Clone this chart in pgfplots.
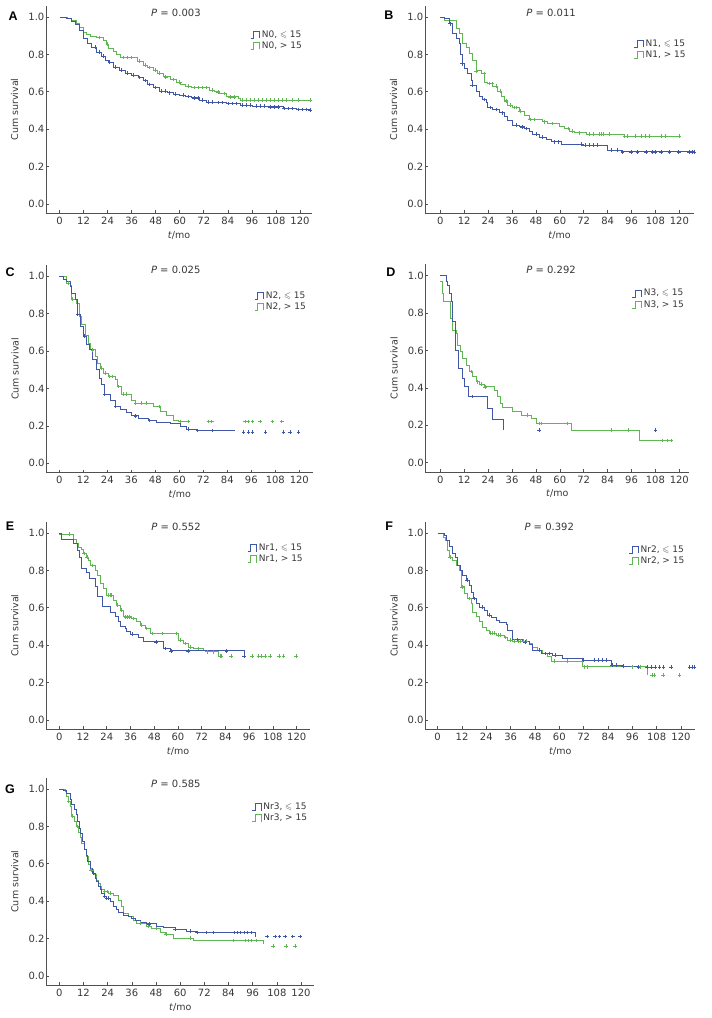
\documentclass[border=0pt]{standalone}
\usepackage{amssymb}
\usepackage{fontspec}
\setmainfont{DejaVu Sans}
\newfontfamily\lettfont{Liberation Sans}
\usepackage{pgfplots}
\pgfplotsset{compat=1.18}
\definecolor{kmblue}{RGB}{64,86,166}
\definecolor{kmgreen}{RGB}{96,182,84}
\definecolor{axgray}{RGB}{80,80,80}
\definecolor{txtgray}{RGB}{55,55,55}
\tikzset{
 ptext/.style={font=\fontsize{10}{12}\selectfont, text=txtgray},
 letter/.style={font=\fontsize{12.5}{15}\lettfont\bfseries\selectfont, text=black},
}
\pgfplotsset{
 kmaxis/.style={
   scale only axis, height=207.6pt, ymin=-0.05, ymax=1.06,
   axis x line=bottom, axis y line=left,
   axis line style={-,draw=axgray,line width=0.6pt},
   tick align=inside, major tick length=3pt,
   tick style={draw=axgray,line width=0.6pt},
   xtick={0,12,24,36,48,60,72,84,96,108,120},
   xticklabels={0,12,24,36,48,60,72,84,96,108,120},
   ytick={0,0.2,0.4,0.6,0.8,1},
   yticklabels={0.0,0.2,0.4,0.6,0.8,1.0},
   ticklabel style={font=\fontsize{10}{12}\selectfont, text=txtgray},
   yticklabel style={inner xsep=1.5pt},
   xlabel={\textit{t}/mo}, ylabel={Cum survival},
   label style={font=\fontsize{9.5}{11}\selectfont, text=txtgray},
   ylabel style={yshift=5pt},
   clip=false,
   legend style={draw=none, fill=none, anchor=north west,
     font=\fontsize{9}{10}\selectfont, text=txtgray, row sep=-1pt, inner sep=0pt},
   legend cell align=left,
   legend image code/.code={\draw[##1] (0pt,-3.5pt) -- (3pt,-3.5pt) -- (3pt,3.5pt) -- (9pt,3.5pt) -- (9pt,-3.5pt);},
 },
 bl/.style={color=kmblue, line width=0.7pt, const plot, mark=none, forget plot},
 gl/.style={color=kmgreen, line width=0.7pt, const plot, mark=none, forget plot},
 bm/.style={color=kmblue, only marks, mark=+, mark size=1.8pt, mark options={line width=0.5pt}, forget plot},
 gm/.style={color=kmgreen, only marks, mark=+, mark size=1.8pt, mark options={line width=0.5pt}, forget plot},
}
\begin{document}
\begin{tikzpicture}
\path[use as bounding box] (0,0) rectangle (712pt,-1018pt);

% ---------------- A ----------------
\begin{axis}[kmaxis, at={(46pt,-213.35pt)}, anchor=south west, width=266pt,
  xmin=-6.74, xmax=126.0, legend style={at={(0.767,0.892)}}]
\addlegendimage{color=kmblue, line width=0.6pt}
\addlegendentry{N0, $\leqslant$ 15}
\addlegendimage{color=kmgreen, line width=0.6pt}
\addlegendentry{N0, > 15}
\addplot[gl] coordinates {(0,1.0) (4,0.99) (6,0.98) (8.6,0.964) (10,0.945) (12,0.92) (13.5,0.905) (15.3,0.897) (18.6,0.89) (22,0.875) (23.5,0.855) (24.4,0.83) (27,0.815) (28.6,0.80) (30.2,0.783) (38.6,0.765) (41.9,0.742) (44,0.73) (46.9,0.715) (49,0.70) (51.9,0.68) (55.2,0.665) (58.5,0.653) (60.5,0.64) (62.7,0.63) (66,0.623) (75,0.609) (77.5,0.60) (80,0.59) (83.4,0.573) (89.2,0.564) (90,0.555) (125,0.555)};
\addplot[bl] coordinates {(0,1.0) (3.6,0.99) (6,0.975) (8,0.96) (10,0.93) (12,0.884) (14,0.86) (16,0.84) (18.5,0.813) (21,0.79) (23,0.77) (24.4,0.76) (27,0.733) (30,0.715) (33,0.70) (36,0.689) (39.5,0.676) (42,0.66) (44,0.64) (46.8,0.623) (50,0.605) (54,0.595) (57,0.588) (60,0.582) (63,0.575) (66,0.568) (70,0.555) (73.5,0.546) (78,0.542) (83.5,0.537) (90,0.528) (96,0.524) (103.4,0.52) (111.7,0.511) (118,0.506) (125,0.502) (126,0.502)};
\addplot[gm] coordinates {(20,0.89) (24,0.855) (32,0.783) (34,0.783) (36,0.783) (40,0.765) (43,0.742) (45,0.73) (48,0.715) (50,0.70) (53,0.68) (57,0.665) (60,0.653) (64,0.63) (67,0.623) (69,0.623) (71,0.623) (73,0.623) (76,0.609) (79,0.60) (82,0.59) (85,0.573) (87,0.573) (91,0.555) (93,0.555) (95,0.555) (97,0.555) (99,0.555) (101,0.555) (103,0.555) (105,0.555) (107,0.555) (109,0.555) (111,0.555) (113,0.555) (116,0.555) (119,0.555) (125,0.555)};
\addplot[bm] coordinates {(18,0.84) (20,0.813) (22,0.79) (25,0.76) (28,0.733) (31,0.715) (34,0.70) (37,0.689) (40,0.676) (43,0.66) (45,0.64) (48,0.623) (51,0.605) (53,0.605) (55,0.595) (58,0.588) (62,0.582) (64,0.575) (67,0.568) (69,0.568) (71,0.555) (74,0.546) (76,0.546) (79,0.542) (81,0.542) (84,0.537) (86,0.537) (88,0.537) (91,0.528) (93,0.528) (95,0.528) (98,0.524) (100,0.524) (102,0.524) (105,0.52) (107,0.52) (109,0.52) (112,0.511) (114,0.511) (116,0.511) (119,0.506) (121,0.506) (123,0.506) (125,0.502)};
\node[ptext] at (axis cs:58.1,1.021) {\textit{P} = 0.003};
\node[letter] at (axis cs:-23.2,1.005) {A};
\end{axis}

% ---------------- B ----------------
\begin{axis}[kmaxis, at={(424.96pt,-213.35pt)}, anchor=south west, width=269.1pt,
  xmin=-7.7, xmax=127.4, legend style={at={(0.776,0.848)}}]
\addlegendimage{color=kmblue, line width=0.6pt}
\addlegendentry{N1, $\leqslant$ 15}
\addlegendimage{color=kmgreen, line width=0.6pt}
\addlegendentry{N1, > 15}
\addplot[gl] coordinates {(0,1.0) (2,0.982) (7.9,0.938) (9.5,0.911) (10.9,0.858) (12.9,0.84) (14.6,0.804) (16.2,0.769) (17.9,0.712) (20.4,0.697) (22.1,0.653) (23.8,0.644) (26.3,0.63) (28.8,0.605) (30.5,0.577) (32.1,0.552) (33.8,0.528) (36.3,0.516) (39.7,0.498) (42.2,0.475) (44.7,0.452) (51.4,0.44) (53.9,0.43) (59.7,0.413) (62.3,0.404) (64.8,0.391) (67.3,0.381) (73.1,0.374) (92.4,0.363) (120,0.363)};
\addplot[bl] coordinates {(0,1.0) (2,0.99) (4.5,0.964) (6.2,0.911) (7.9,0.884) (9.5,0.858) (10.2,0.80) (10.9,0.75) (12,0.724) (13.7,0.697) (15.4,0.662) (16.2,0.635) (17.9,0.60) (19.6,0.573) (21.3,0.559) (22.9,0.541) (23.8,0.516) (26.3,0.505) (29.6,0.488) (32.1,0.466) (33.8,0.445) (36.3,0.422) (39.7,0.413) (42.2,0.404) (44.7,0.386) (46.4,0.374) (49.7,0.359) (53,0.345) (55.6,0.333) (60.6,0.32) (71.5,0.315) (84,0.288) (90.7,0.279) (127.3,0.279)};
\addplot[gm] coordinates {(18,0.712) (22,0.697) (24.5,0.644) (26,0.644) (28,0.63) (30,0.605) (33,0.552) (35,0.528) (37,0.516) (38,0.516) (40,0.498) (45,0.452) (47,0.452) (52,0.44) (56,0.43) (64,0.404) (66,0.391) (70,0.381) (75,0.374) (77,0.374) (80,0.374) (81,0.374) (82,0.374) (85,0.374) (92.4,0.363) (94,0.363) (98,0.363) (101,0.363) (103,0.363) (105,0.363) (111,0.363) (113,0.363) (120,0.363)};
\addplot[bm] coordinates {(5,0.964) (11,0.75) (16,0.635) (22,0.559) (25,0.516) (28,0.505) (31,0.488) (38,0.422) (41,0.413) (43,0.404) (48,0.374) (51,0.359) (57,0.333) (59,0.333) (71,0.32) (73,0.315) (75,0.315) (77,0.315) (79,0.315) (86,0.288) (89,0.288) (91.5,0.279) (95.7,0.279) (99,0.279) (103.3,0.279) (106.6,0.279) (107.8,0.279) (110.8,0.279) (115,0.279) (119.7,0.279) (125,0.279) (126.4,0.279) (127.3,0.279)};
\node[ptext] at (axis cs:55.6,1.021) {\textit{P} = 0.011};
\node[letter] at (axis cs:-25.8,1.01) {B};
\end{axis}

% ---------------- C ----------------
\begin{axis}[kmaxis, at={(46.3pt,-472.65pt)}, anchor=south west, width=267pt,
  xmin=-6.5, xmax=127, legend style={at={(0.778,0.884)}}]
\addlegendimage{color=kmblue, line width=0.6pt}
\addlegendentry{N2, $\leqslant$ 15}
\addlegendimage{color=kmgreen, line width=0.6pt}
\addlegendentry{N2, > 15}
\addplot[gl] coordinates {(0,1.0) (3.7,0.964) (5.3,0.95) (6.2,0.879) (8.7,0.857) (10,0.786) (11.2,0.741) (12.8,0.682) (14.5,0.643) (15.7,0.607) (17.8,0.571) (19,0.536) (20.3,0.509) (22,0.482) (24.5,0.464) (27.8,0.45) (29,0.411) (31.2,0.371) (36.2,0.339) (37.8,0.321) (47,0.304) (50.3,0.277) (53.7,0.259) (57,0.232) (59.5,0.223) (64.5,0.223)};
\addplot[bl] coordinates {(0,1.0) (2,0.986) (3.7,0.973) (5.3,0.946) (6.2,0.91) (7.8,0.875) (9,0.795) (10.3,0.732) (12,0.68) (13.7,0.634) (15,0.607) (16.7,0.554) (18.7,0.50) (20,0.455) (21.2,0.42) (22.3,0.371) (25.3,0.339) (27.8,0.304) (30.3,0.286) (33.7,0.271) (36.2,0.254) (39.5,0.241) (44.5,0.229) (48.7,0.218) (55.3,0.214) (60.3,0.196) (63.7,0.182) (68.7,0.175) (87.8,0.175)};
\addplot[gm] coordinates {(4.5,0.964) (6.5,0.879) (16.5,0.607) (21,0.509) (23,0.482) (25,0.464) (26.5,0.464) (29.5,0.411) (32,0.371) (33.5,0.371) (38,0.321) (41,0.321) (43.5,0.321) (50,0.304) (60.3,0.223) (64.5,0.223) (74.5,0.223) (76.2,0.223) (92.8,0.223) (94.5,0.223) (96.5,0.223) (100.3,0.223) (106.5,0.223) (111.2,0.223)};
\addplot[bm] coordinates {(9.2,0.795) (12.5,0.68) (22.5,0.371) (28,0.304) (38,0.254) (45,0.229) (64.5,0.182) (69,0.175) (76.5,0.175) (92,0.168) (94.5,0.168) (96.5,0.168) (103,0.168) (112,0.168) (115.3,0.168) (119.5,0.168)};
\node[ptext] at (axis cs:58.2,1.035) {\textit{P} = 0.025};
\node[letter] at (axis cs:-24.6,1.02) {C};
\end{axis}

% ---------------- D ----------------
\begin{axis}[kmaxis, at={(425.36pt,-472.05pt)}, anchor=south west, width=263.9pt,
  xmin=-7.5, xmax=125, legend style={at={(0.783,0.891)}}]
\addlegendimage{color=kmblue, line width=0.6pt}
\addlegendentry{N3, $\leqslant$ 15}
\addlegendimage{color=kmgreen, line width=0.6pt}
\addlegendentry{N3, > 15}
\addplot[gl] coordinates {(0,0.968) (1,0.906) (1.5,0.861) (4.9,0.772) (6.2,0.709) (7.9,0.691) (8.7,0.629) (10,0.594) (11.2,0.558) (12.9,0.522) (14.6,0.487) (16.2,0.46) (17.9,0.433) (19.6,0.421) (22.1,0.406) (27.1,0.389) (28.8,0.353) (30,0.317) (31.3,0.296) (36.3,0.273) (40.5,0.255) (45.5,0.237) (48,0.21) (65.6,0.175) (100,0.118) (116.7,0.118)};
\addplot[bl] coordinates {(0,1.0) (2.8,0.968) (3.7,0.95) (4.5,0.906) (5.4,0.861) (6.2,0.754) (7.4,0.60) (9,0.504) (10.9,0.451) (12,0.406) (14,0.353) (23.8,0.291) (26.3,0.232) (31.8,0.175)};
\addplot[gm] coordinates {(15.4,0.487) (18.7,0.433) (20.4,0.421) (22.4,0.406) (43.8,0.255) (49.7,0.21) (50.5,0.21) (63.9,0.21) (85.7,0.175) (94.6,0.175) (111.6,0.118) (114.1,0.118) (115.8,0.118)};
\addplot[bm] coordinates {(15.9,0.353) (49.5,0.175) (108,0.175)};
\node[ptext] at (axis cs:55.6,1.03) {\textit{P} = 0.292};
\node[letter] at (axis cs:-24.8,1.016) {D};
\end{axis}

% ---------------- E ----------------
\begin{axis}[kmaxis, at={(46.25pt,-729.35pt)}, anchor=south west, width=263.7pt,
  xmin=-6.6, xmax=126.7, legend style={at={(0.762,0.903)}}]
\addlegendimage{color=kmblue, line width=0.6pt}
\addlegendentry{Nr1, $\leqslant$ 15}
\addlegendimage{color=kmgreen, line width=0.6pt}
\addlegendentry{Nr1, > 15}
\addplot[gl] coordinates {(0,0.993) (7.1,0.964) (8.4,0.947) (9.6,0.925) (11.3,0.911) (12.1,0.89) (13.5,0.872) (14.7,0.854) (15.8,0.827) (18,0.80) (19.2,0.774) (20.6,0.73) (22.2,0.703) (23.6,0.667) (27.3,0.641) (28.7,0.614) (30.7,0.587) (32.4,0.552) (36.6,0.543) (39.1,0.525) (40.8,0.507) (43.3,0.49) (45.8,0.463) (60.2,0.427) (62.7,0.409) (65.2,0.391) (67.8,0.383) (72.8,0.374) (73.7,0.365) (80.4,0.342) (82,0.342)};
\addplot[bl] coordinates {(0,1.0) (1,0.966) (7.1,0.943) (9.1,0.907) (10.1,0.872) (11.3,0.81) (13.5,0.792) (15.2,0.756) (18,0.712) (19.2,0.662) (21.9,0.609) (25.6,0.578) (28.1,0.552) (29.8,0.525) (31,0.502) (33.2,0.49) (34,0.472) (35.7,0.459) (39.9,0.441) (42.5,0.418) (52.6,0.383) (56,0.37) (93.4,0.342)};
\addplot[gm] coordinates {(5,0.993) (12.5,0.89) (14,0.872) (16.5,0.827) (24.5,0.667) (25.5,0.667) (26.5,0.667) (29.5,0.614) (31.5,0.587) (33.5,0.552) (34.5,0.552) (35.5,0.552) (37.5,0.543) (41.5,0.507) (44,0.49) (47,0.463) (52,0.463) (59,0.463) (61,0.427) (63.5,0.409) (66,0.391) (70,0.383) (75,0.365) (78,0.365) (81.2,0.342) (82,0.342) (86.7,0.342) (97.3,0.342) (100.7,0.342) (102.3,0.342) (104,0.342) (106.5,0.342) (111.2,0.342) (113.3,0.342) (119.7,0.342)};
\addplot[bm] coordinates {(37,0.459) (49,0.418) (53.5,0.383) (56.5,0.37) (65,0.37) (84.5,0.37) (93.4,0.342)};
\node[ptext] at (axis cs:59.0,1.032) {\textit{P} = 0.552};
\node[letter] at (axis cs:-24.9,1.036) {E};
\end{axis}

% ---------------- F ----------------
\begin{axis}[kmaxis, at={(425.3pt,-729.35pt)}, anchor=south west, width=269.9pt,
  xmin=-6.1, xmax=127, legend style={at={(0.754,0.895)}}]
\addlegendimage{color=kmblue, line width=0.6pt}
\addlegendentry{Nr2, $\leqslant$ 15}
\addlegendimage{color=kmgreen, line width=0.6pt}
\addlegendentry{Nr2, > 15}
\addplot[gl] coordinates {(0,1.0) (2.8,0.979) (3.8,0.961) (4.9,0.907) (5.8,0.872) (7.4,0.854) (9,0.827) (10.7,0.80) (11.5,0.712) (13.2,0.676) (14.8,0.649) (16.4,0.623) (17.3,0.578) (18.9,0.552) (20.5,0.525) (22.2,0.498) (23.8,0.48) (25.5,0.466) (28.8,0.454) (32.9,0.441) (34.5,0.427) (37,0.423) (45.2,0.409) (46.5,0.391) (49.3,0.374) (51.8,0.359) (54.3,0.342) (55.9,0.315) (71.5,0.285) (103.6,0.24)};
\addplot[bl] coordinates {(0,1.0) (3.3,0.988) (4.4,0.961) (5.8,0.929) (7.4,0.89) (8.5,0.868) (9.9,0.827) (11,0.80) (12.3,0.774) (14,0.747) (15.6,0.72) (16.4,0.685) (17.6,0.649) (18.9,0.623) (20.5,0.605) (23,0.587) (24.7,0.56) (26.3,0.548) (28.8,0.534) (30.4,0.52) (33.7,0.512) (34.5,0.48) (37,0.431) (41.9,0.418) (45.2,0.406) (46.8,0.374) (51,0.356) (56.7,0.347) (61.6,0.329) (71.5,0.32) (85.5,0.294) (91.2,0.288) (99,0.283)};
\addplot[gm] coordinates {(6.2,0.872) (12,0.712) (15.5,0.649) (26,0.466) (27,0.466) (28,0.466) (30,0.454) (31,0.454) (33.5,0.441) (36,0.427) (38,0.423) (39.5,0.423) (40.5,0.423) (42,0.423) (43.5,0.423) (57.5,0.315) (64,0.315) (72.5,0.285) (74,0.285) (96,0.285) (100,0.285) (105.7,0.24) (106.8,0.24) (111,0.24) (119.2,0.24)};
\addplot[bm] coordinates {(14.5,0.747) (18,0.649) (22,0.605) (25.5,0.56) (39,0.431) (43,0.418) (50,0.374) (53,0.356) (55,0.356) (58,0.347) (72,0.32) (77,0.32) (79,0.32) (81,0.32) (83,0.32) (86,0.294) (88,0.294) (91.5,0.288) (99,0.283) (103.2,0.283) (105.2,0.283) (107.3,0.283) (109.3,0.283) (111.3,0.283) (115.1,0.283) (124.1,0.283) (125.4,0.283) (126.6,0.283)};
\node[ptext] at (axis cs:55.0,1.032) {\textit{P} = 0.392};
\node[letter] at (axis cs:-23.9,1.036) {F};
\end{axis}

% ---------------- G ----------------
\begin{axis}[kmaxis, at={(46.2pt,-985.35pt)}, anchor=south west, width=268.1pt,
  xmin=-6.5, xmax=126.6, legend style={at={(0.766,0.889)}}]
\addlegendimage{color=kmblue, line width=0.6pt}
\addlegendentry{Nr3, $\leqslant$ 15}
\addlegendimage{color=kmgreen, line width=0.6pt}
\addlegendentry{Nr3, > 15}
\addplot[gl] coordinates {(0,1.0) (2.8,0.988) (3.6,0.961) (4.5,0.934) (5.6,0.907) (6.1,0.854) (7.3,0.827) (8.6,0.80) (9.4,0.768) (10.3,0.743) (11.1,0.711) (12.3,0.675) (13.2,0.639) (14.4,0.595) (15.6,0.568) (16.9,0.541) (18.2,0.514) (19.4,0.496) (20.2,0.479) (21,0.461) (22.2,0.452) (24.3,0.443) (26.8,0.429) (29.3,0.407) (31,0.375) (31.8,0.336) (34.3,0.318) (36.8,0.30) (38.4,0.282) (43.4,0.268) (45.9,0.255) (50,0.232) (52.5,0.225) (56.6,0.202) (66.6,0.189) (101.3,0.172)};
\addplot[bl] coordinates {(0,1.0) (2,0.993) (3.6,0.979) (5.3,0.943) (6.1,0.916) (7.3,0.889) (8.3,0.862) (8.9,0.827) (9.9,0.791) (10.6,0.764) (11.6,0.72) (12.3,0.675) (13.2,0.643) (13.9,0.613) (15.2,0.577) (16.6,0.55) (17.7,0.523) (18.5,0.505) (19.4,0.479) (20.2,0.461) (21,0.443) (22.2,0.425) (23.5,0.416) (25.2,0.398) (26.8,0.375) (28.1,0.354) (29.3,0.339) (31.8,0.327) (34.3,0.318) (35.9,0.309) (37.6,0.296) (40.1,0.286) (43.4,0.279) (48.3,0.268) (51.7,0.261) (57.5,0.25) (63.2,0.241) (68.2,0.232) (97.2,0.211)};
\addplot[gm] coordinates {(4.5,0.934) (6.5,0.854) (9,0.80) (15.8,0.568) (22.5,0.452) (24,0.452) (25.5,0.443) (40,0.282) (44,0.268) (48,0.255) (53,0.225) (65,0.202) (86.4,0.189) (92.2,0.189) (93.9,0.189) (95.5,0.189) (98,0.189) (106,0.161) (112.6,0.161) (117,0.161)};
\addplot[bm] coordinates {(17,0.55) (22.5,0.425) (23.5,0.416) (24.5,0.416) (44.5,0.279) (57.5,0.25) (65,0.241) (68.5,0.232) (73,0.232) (76.5,0.232) (87,0.232) (88.5,0.232) (90,0.232) (92,0.232) (93.5,0.232) (95.5,0.232) (103,0.211) (107.1,0.211) (109.3,0.211) (112.1,0.211) (115.9,0.211) (119.5,0.211)};
\node[ptext] at (axis cs:57.9,1.028) {\textit{P} = 0.585};
\node[letter] at (axis cs:-24.5,1.0) {G};
\end{axis}
\end{tikzpicture}
\end{document}
